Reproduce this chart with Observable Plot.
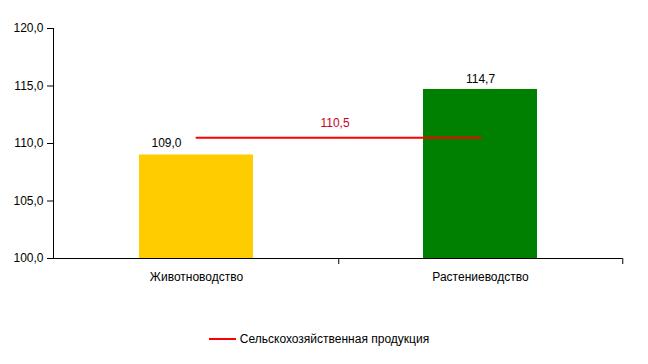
<!DOCTYPE html>
<html>
<head>
<meta charset="utf-8">
<script src="https://cdn.jsdelivr.net/npm/d3@7"></script>
<script src="https://cdn.jsdelivr.net/npm/@observablehq/plot@0.6"></script>
<style>
  body { margin: 0; background: #fff; font-family: "Liberation Sans", Arial, sans-serif; }
  #chart svg { display: block; }
  .legend { display: flex; justify-content: center; align-items: center; margin-top: 22px; font-size: 12px; color: #000; padding-right: 10px; }
  .legend .sw { width: 27px; height: 2px; background: #ff0000; margin-right: 4px; }
</style>
</head>
<body>
<div id="chart"></div>
<div class="legend"><span class="sw"></span><span>Сельскохозяйственная продукция</span></div>
<script>
const categories = ["Животноводство", "Растениеводство"];
const values = [109.0, 114.7];
const colors = ["#ffcc00", "#008000"];
const totalLabel = "Сельскохозяйственная продукция";
const totalValue = 110.5;
const yTicks = [100, 105, 110, 115, 120];

const bars = categories.map((c, i) => ({category: c, value: values[i], color: colors[i]}));
const totalLine = categories.map(c => ({category: c, value: totalValue}));
const fmt = v => v.toFixed(1).replace(".", ",");

const chart = Plot.plot({
  width: 648,
  height: 310,
  marginLeft: 53,
  marginRight: 26,
  marginTop: 28,
  marginBottom: 52,
  style: {fontFamily: "'Liberation Sans', Arial, sans-serif", fontSize: "12px", color: "#000", background: "#fff"},
  x: {domain: categories, paddingInner: 0.6, paddingOuter: 0.3, label: null},
  y: {domain: [100, 120], ticks: yTicks, label: null, tickFormat: fmt},
  marks: [
    Plot.barY(bars, {x: "category", y1: 100, y2: "value", fill: "color"}),
    Plot.ruleY([100], {stroke: "#000"}),
    Plot.frame({anchor: "left", stroke: "#000"}),
    Plot.axisY({ticks: yTicks, tickSize: 6, tickPadding: 4, tickFormat: fmt, fontSize: 12, stroke: "#000"}),
    Plot.axisX({tickSize: 0, tickPadding: 14, fontSize: 12}),
    Plot.axisX({tickSize: 6, text: null, dx: 142.25, stroke: "#000"}),
    Plot.text(bars.slice(0, 1), {x: "category", y: "value", text: d => fmt(d.value), dy: -12, dx: -30, fontSize: 12, fill: "#000"}),
    Plot.text(bars.slice(1), {x: "category", y: "value", text: d => fmt(d.value), dy: -10, fontSize: 12, fill: "#000"}),
    Plot.lineY(totalLine, {x: "category", y: "value", stroke: "#ff0000", strokeWidth: 2}),
    Plot.text([totalValue], {y: d => d, frameAnchor: "middle", text: d => fmt(d), dy: -15, dx: -3, fill: "#cc0022", fontSize: 12})
  ]
});
document.getElementById("chart").appendChild(chart);
</script>
</body>
</html>
